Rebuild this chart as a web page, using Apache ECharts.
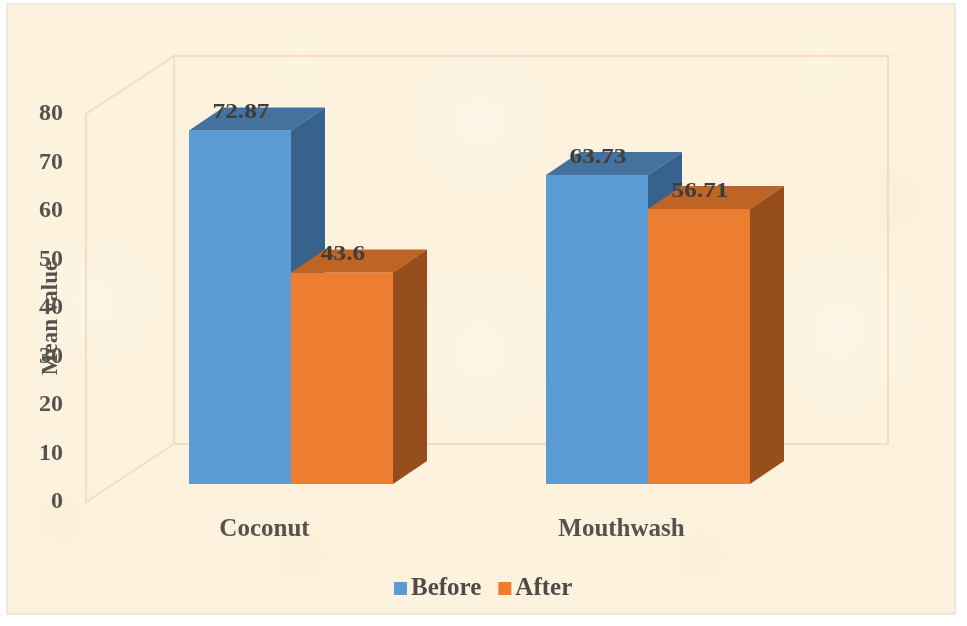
<!DOCTYPE html>
<html>
<head>
<meta charset="utf-8">
<style>html,body{margin:0;padding:0;background:#fff}#c{width:967px;height:626px;filter:blur(0.4px)}</style>
<script src="https://cdn.jsdelivr.net/npm/echarts@6/dist/echarts.min.js"></script>
</head>
<body>
<div id="c"></div>
<script>
const categories = ['Coconut', 'Mouthwash'];
const beforeValues = [72.87, 63.73];
const afterValues = [43.6, 56.71];
const beforeName = 'Before';
const afterName = 'After';
const yAxisTitle = 'Mean value';

const FONT = '"Liberation Serif","Times New Roman",serif';
const chart = echarts.init(document.getElementById('c'), null, {renderer: 'canvas'});

function bar3d(slot, front, top, side, labelColor) {
  return function (params, api) {
    const cat = api.value(0), val = api.value(1);
    const p = api.coord([cat, val]);
    const base = api.coord([cat, 0]);
    const band = api.size([1, 0])[0];
    const w = band * 0.2857;
    const x0 = p[0] + (slot === 0 ? -w : 0);
    const x1 = x0 + w;
    const y = p[1], b = base[1];
    const dx = 34, dy = 23;
    return {
      type: 'group',
      children: [
        {type: 'rect', shape: {x: x0, y: y, width: w, height: b - y}, style: {fill: front}},
        {type: 'polygon', shape: {points: [[x0, y], [x0 + dx, y - dy], [x1 + dx, y - dy], [x1, y]]}, style: {fill: top}},
        {type: 'polygon', shape: {points: [[x1, y], [x1 + dx, y - dy], [x1 + dx, b - dy], [x1, b]]}, style: {fill: side}},
        {type: 'text', z2: 10, x: x0 + w / 2 + 1, y: y - 18, scaleX: 1.15, style: {
          text: String(val),
          fill: labelColor, font: 'bold 22px ' + FONT, align: 'center', verticalAlign: 'middle'
        }}
      ]
    };
  };
}

// soft parchment mottling
const patches = [
  [300, 60, 55, '#FDF4DC'], [820, 60, 55, '#FDF4DC'],
  [95, 300, 70, '#FDF6E6'], [480, 120, 80, '#FDF6E6'], [480, 350, 90, '#FDF6E6'],
  [840, 330, 90, '#FDF6E6'], [300, 555, 55, '#FBEFD6'], [700, 555, 55, '#FBEFD6'],
  [900, 200, 50, '#FBEFD6'], [60, 520, 50, '#FBEFD6']
];
const blobs = patches.map(p => ({
  type: 'circle', z: -9, silent: true,
  shape: {cx: p[0], cy: p[1], r: p[2]},
  style: {fill: new echarts.graphic.RadialGradient(0.5, 0.5, 0.5, [
    {offset: 0, color: p[3]}, {offset: 1, color: p[3] + '00'}
  ])}
}));

const wallColor = '#F6DCC4';
chart.setOption({
  animation: false,
  backgroundColor: '#ffffff',
  graphic: [
    {type: 'rect', z: -10, silent: true, shape: {x: 7, y: 4, width: 948, height: 610},
      style: {fill: '#FCF2DE', stroke: '#E6E2DA', lineWidth: 1.5}},
    ...blobs,
    {type: 'rect', z: -5, silent: true, shape: {x: 174, y: 56, width: 714, height: 388},
      style: {fill: 'transparent', stroke: wallColor, lineWidth: 2}},
    {type: 'polyline', z: -5, silent: true,
      shape: {points: [[174, 56], [86, 114], [86, 502], [174, 444]]},
      style: {fill: 'none', stroke: wallColor, lineWidth: 2}}
  ],
  legend: {
    left: 389, top: 571,
    itemWidth: 13, itemHeight: 13, itemGap: 17,
    icon: 'rect',
    data: [beforeName, afterName],
    textStyle: {fontFamily: FONT, fontWeight: 'bold', fontSize: 25, color: '#4F4A45', padding: [0, 0, 0, -1]}
  },
  grid: [
    {left: 112.5, top: 96, width: 714, height: 388},
    {left: 86, top: 114, width: 714, height: 388}
  ],
  xAxis: [
    {gridIndex: 0, type: 'category', data: categories, show: false},
    {gridIndex: 1, type: 'category', data: categories,
      axisLine: {show: false}, axisTick: {show: false},
      axisLabel: {margin: 15, fontFamily: FONT, fontWeight: 'bold', fontSize: 25, color: '#56524D'}}
  ],
  yAxis: [
    {gridIndex: 0, type: 'value', min: 0, max: 80, interval: 10, show: false},
    {gridIndex: 1, type: 'value', min: 0, max: 80, interval: 10,
      axisLine: {show: false}, axisTick: {show: false}, splitLine: {show: false},
      axisLabel: {margin: 23, padding: [3, 0, 0, 0], fontFamily: FONT, fontWeight: 'bold', fontSize: 24, color: '#56524D'},
      name: yAxisTitle, nameLocation: 'middle', nameGap: 23, nameMoveOverlap: false,
      nameTextStyle: {fontFamily: FONT, fontWeight: 'bold', fontSize: 23, color: '#56524D', padding: [0, 20, 0, 0]}}
  ],
  series: [
    {name: beforeName, type: 'custom', xAxisIndex: 0, yAxisIndex: 0,
      itemStyle: {color: '#5B9BD5'},
      encode: {x: 0, y: 1},
      data: beforeValues.map((v, i) => [i, v]),
      renderItem: bar3d(0, '#5B9BD5', '#44729F', '#37628C', '#403C38')},
    {name: afterName, type: 'custom', xAxisIndex: 0, yAxisIndex: 0,
      itemStyle: {color: '#ED7D31'},
      encode: {x: 0, y: 1},
      data: afterValues.map((v, i) => [i, v]),
      renderItem: bar3d(1, '#ED7D31', '#BE6425', '#964F1C', '#403C38')}
  ]
});
</script>
</body>
</html>
